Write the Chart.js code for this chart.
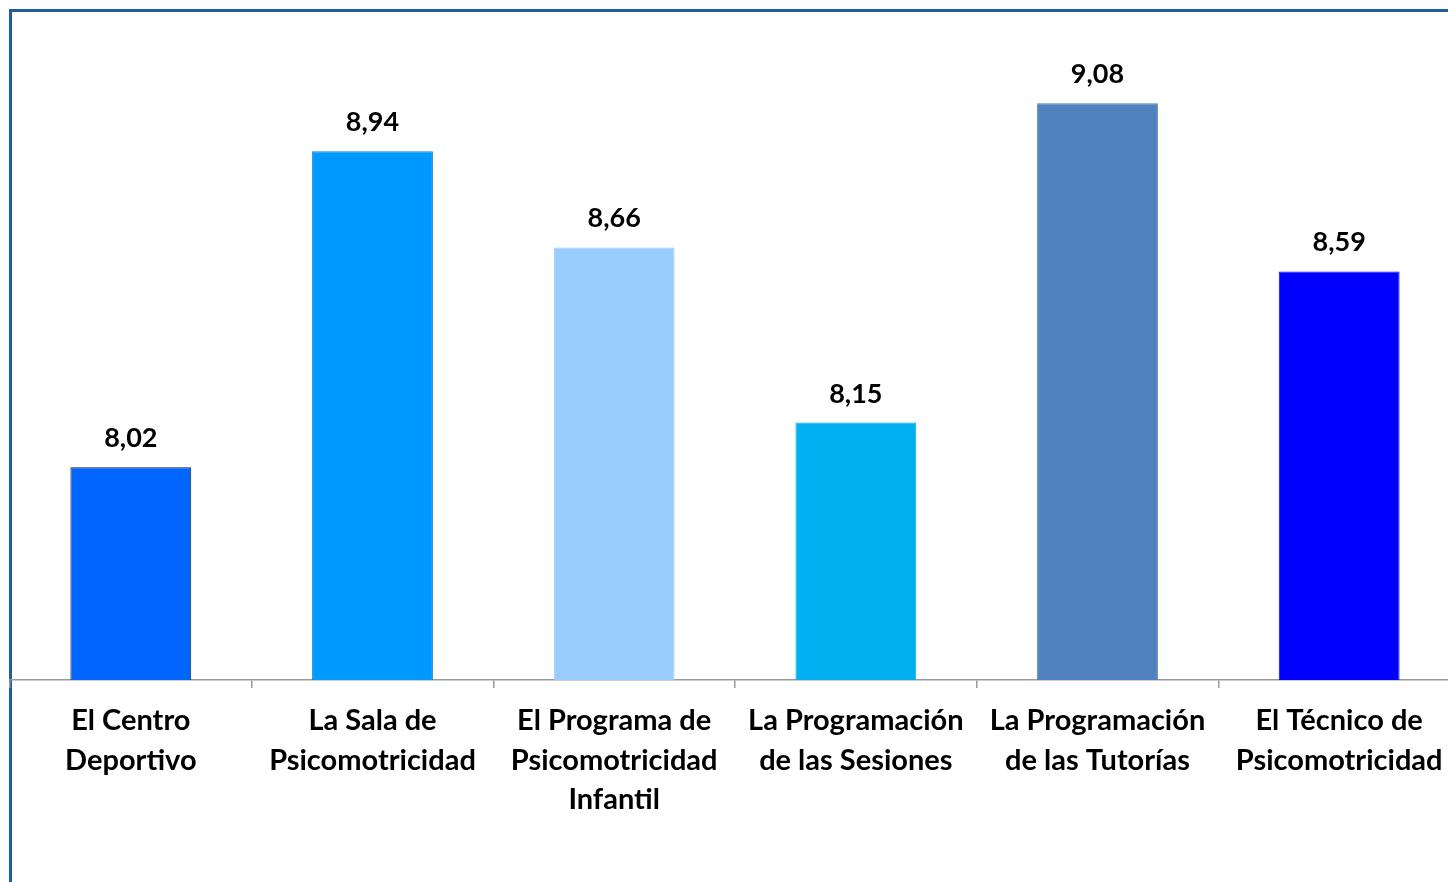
<!DOCTYPE html>
<html>
<head>
<meta charset="utf-8">
<script src="https://cdn.jsdelivr.net/npm/chart.js@4.4.1/dist/chart.umd.min.js"></script>
<style>
  html, body { margin: 0; padding: 0; background: #fff; overflow: hidden; }
  #wrap { position: relative; width: 1448px; height: 882px; overflow: hidden; }
  #frame { position: absolute; left: 9px; top: 9px; width: 1460px; height: 900px;
           border-top: 3px solid #1F5C99; border-left: 3px solid #1F5C99; }
  #box { position: absolute; left: 0; top: 0; width: 1462px; height: 900px; }
</style>
</head>
<body>
<div id="wrap">
  <div id="frame"></div>
  <div id="box"><canvas id="chart"></canvas></div>
</div>
<script>
// data
const categories = [
  ["El Centro", "Deportivo"],
  ["La Sala de", "Psicomotricidad"],
  ["El Programa de", "Psicomotricidad", "Infantil"],
  ["La Programación", "de las Sesiones"],
  ["La Programación", "de las Tutorías"],
  ["El Técnico de", "Psicomotricidad"]
];
const scores = [8.02, 8.94, 8.66, 8.15, 9.08, 8.59];
const barColors = ["#0066FF", "#0099FF", "#99CCFF", "#00B0F0", "#4F81BD", "#0000FF"];
const barEdges = ["#1a1a1a", "#0A84D8", "#99CCFF", "#00B0F0", "#4F81BD", "#0000FF"];

const FONT = "Lato, 'Open Sans', sans-serif";

// value labels above each bar, comma decimal
const valueLabels = {
  id: "valueLabels",
  afterDatasetsDraw(chart) {
    const { ctx } = chart;
    const meta = chart.getDatasetMeta(0);
    ctx.save();
    ctx.font = "bold 27px " + FONT;
    ctx.fillStyle = "#000";
    ctx.textAlign = "center";
    ctx.textBaseline = "alphabetic";
    meta.data.forEach((bar, i) => {
      ctx.fillText(scores[i].toFixed(2).replace(".", ","), bar.x, bar.y - 20);
    });
    ctx.restore();
  }
};

new Chart(document.getElementById("chart"), {
  type: "bar",
  data: {
    labels: categories,
    datasets: [{
      data: scores,
      backgroundColor: barColors,
      borderColor: barEdges,
      borderWidth: 1,
      categoryPercentage: 1,
      barPercentage: 0.5
    }]
  },
  options: {
    responsive: true,
    maintainAspectRatio: false,
    animation: false,
    layout: { padding: { left: 10, right: 2, top: 62, bottom: 0 } },
    plugins: { legend: { display: false }, tooltip: { enabled: false } },
    scales: {
      x: {
        offset: true,
        border: { color: "#999", width: 1.5 },
        grid: { offset: true, drawOnChartArea: false, color: "#999", tickLength: 8, lineWidth: 1.5 },
        ticks: {
          color: "#000",
          font: { family: FONT, size: 29, weight: "bold", lineHeight: 1.36 },
          padding: 13,
          maxRotation: 0,
          autoSkip: false
        },
        afterFit(scale) { scale.height = 220; }
      },
      y: {
        display: false,
        min: 7.4,
        max: 9.2
      }
    }
  },
  plugins: [valueLabels]
});
</script>
</body>
</html>
